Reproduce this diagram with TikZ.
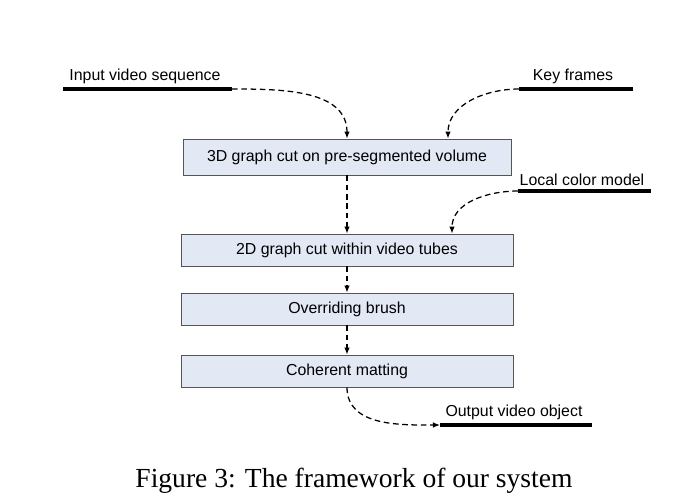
\documentclass[tikz,border=0pt]{standalone}
\usepackage{fontspec}
\setmainfont{Liberation Sans}
\newfontfamily\capfont{Liberation Serif}
\usepackage{tikz}
\usetikzlibrary{arrows.meta}

\definecolor{boxfill}{HTML}{E3E8F5}
\definecolor{boxline}{HTML}{555555}

\tikzset{
  stepbox/.style={draw=boxline, fill=boxfill, line width=0.6pt, inner sep=0pt,
    minimum width=8.3cm, minimum height=0.8cm, font=\fontsize{11.3}{13}\selectfont},
  flow/.style={line width=0.9pt, dash pattern=on 4pt off 2.6pt, -{Latex[length=5pt,width=4pt]}},
  feed/.style={line width=2.2pt},
  lbl/.style={font=\fontsize{11.3}{13}\selectfont, inner sep=1pt}
}

\begin{document}
\begin{tikzpicture}[x=0.025cm, y=-0.025cm]
      \useasboundingbox (0,0) rectangle (676,504);
      % processing steps
      \node[stepbox, minimum width=8.2cm, minimum height=0.9cm] (cut3d) at (347,157) {3D graph cut on pre-segmented volume};
      \node[stepbox] (cut2d) at (347,250) {2D graph cut within video tubes};
      \node[stepbox] (brush) at (347,309) {Overriding brush};
      \node[stepbox] (matte) at (347,371) {Coherent matting};
      % inputs and output
      \coordinate (ins) at (63,89);
      \coordinate (ine) at (232,89);
      \coordinate (keys) at (519,89);
      \coordinate (keye) at (633,89);
      \coordinate (lcms) at (518,191);
      \coordinate (lcme) at (651,191);
      \coordinate (outs) at (440,425);
      \coordinate (oute) at (592,425);
      \node[lbl] (inl) at (145,76) {Input video sequence};
      \node[lbl] (keyl) at (573,76) {Key frames};
      \node[lbl] (lcml) at (582,180) {Local color model};
      \node[lbl] (outl) at (514,412) {Output video object};
      \draw [feed] (ins) -- (ine);
      \draw [feed] (keys) -- (keye);
      \draw [feed] (lcms) -- (lcme);
      \draw [feed] (outs) -- (oute);
      % connectors
      \draw [flow] (ine) to[out=0, in=90] (cut3d.north);
      \draw [flow] (keys) to[out=180, in=90] ([xshift=101*0.025cm]cut3d.north);
      \draw [flow] (lcms) to[out=180, in=90] ([xshift=105*0.025cm]cut2d.north);
      \draw [flow] (cut3d) -- (cut2d);
      \draw [flow] (cut2d) -- (brush);
      \draw [flow] (brush) -- (matte);
      \draw [flow] (matte.south) to[out=-90, in=180] (outs);
      % caption
      \node[font=\capfont\fontsize{19.6}{23}\selectfont] (cap) at (354,481) {Figure 3: The framework of our system};
\end{tikzpicture}
\end{document}
